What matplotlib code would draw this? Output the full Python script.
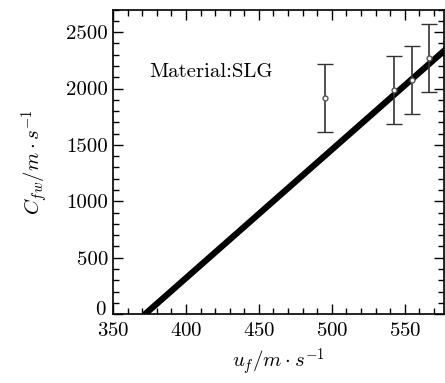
import numpy as np
from matplotlib import pyplot as plt
from matplotlib.ticker import MultipleLocator, FuncFormatter

plt.rcParams['font.family'] = ['cmr10', 'DejaVu Serif']
plt.rcParams['mathtext.fontset'] = 'cm'
plt.rcParams['axes.formatter.use_mathtext'] = True

# measured points with error bars
u = [495, 542.5, 555, 566.5]
c = [1915, 1985, 2075, 2270]
c_err = [300, 300, 300, 300]

# fitted line
fit_u = [372, 590]
fit_c = [0, 2483]

fig = plt.figure(figsize=(4.45, 3.83), dpi=100)
ax = fig.add_axes([0.254, 0.180, 0.744, 0.795])

ax.plot(fit_u, fit_c, color='black', lw=4.5, solid_capstyle='round', zorder=2)
ax.errorbar(u, c, yerr=c_err, fmt='o', ms=3.5, mfc='white', mec='#555555',
            mew=1, ecolor='#333333', elinewidth=1.2, capsize=6, capthick=1.2, zorder=3)

ax.text(375, 2145, 'Material:SLG', fontsize=15, va='center', ha='left')

ax.set_xlim(350, 577)
ax.set_ylim(0, 2700)
ax.xaxis.set_major_locator(MultipleLocator(50))
ax.xaxis.set_minor_locator(MultipleLocator(10))
ax.yaxis.set_major_locator(MultipleLocator(500))
ax.yaxis.set_minor_locator(MultipleLocator(100))
# the "0" is placed by hand a bit higher so it clears "350"
ax.yaxis.set_major_formatter(FuncFormatter(lambda v, p: '' if v == 0 else '%d' % v))
ax.annotate('0', xy=(0, 0), xycoords='axes fraction', xytext=(-5, 3),
            textcoords='offset points', ha='right', va='center', fontsize=15)
ax.tick_params(which='both', direction='in', top=True, right=True, labelsize=15, width=1)
ax.tick_params(which='major', length=7)
ax.tick_params(which='minor', length=4)
ax.tick_params(axis='x', pad=6)
for s in ax.spines.values():
    s.set_linewidth(1.2)

ax.set_xlabel(r'$u_f/m\cdot s^{-1}$', fontsize=15, labelpad=4)
ax.set_ylabel(r'$C_{fw}/m\cdot s^{-1}$', fontsize=15, labelpad=12)

fig.savefig('out.png', dpi=100)
